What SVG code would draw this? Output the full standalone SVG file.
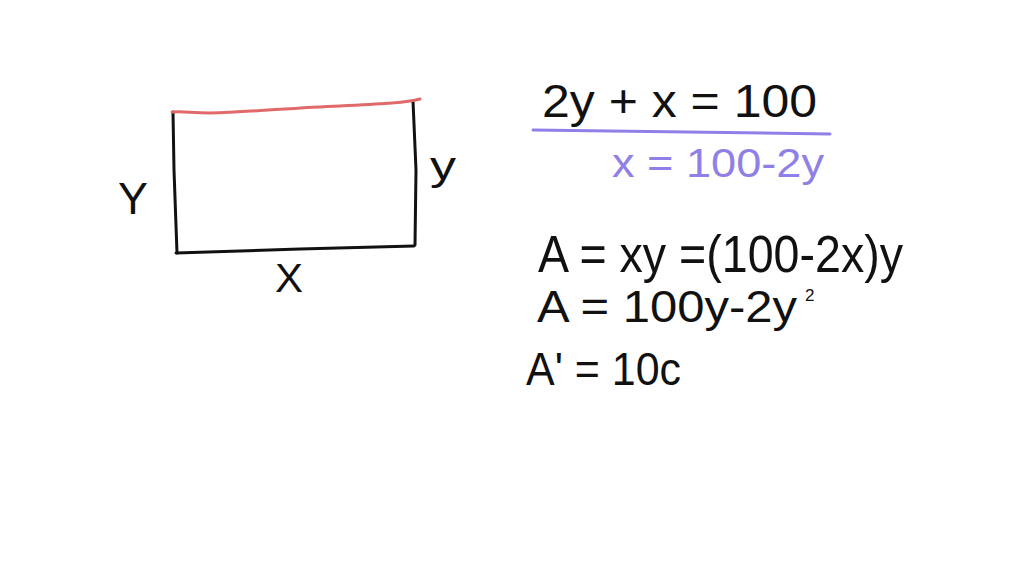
<svg xmlns="http://www.w3.org/2000/svg" width="1024" height="576" viewBox="0 0 1024 576">
<style>
.s{fill:none;stroke:#111;stroke-width:3;stroke-linecap:round;stroke-linejoin:round}
.t{font-family:"Liberation Sans","DejaVu Sans",sans-serif;fill:#111}
.p{fill:#8f7fe6}
</style>
<rect width="1024" height="576" fill="#fff"/>
<g id="rectangle">
<path class="s" d="M173,112 L174,170 L177,253"/>
<path class="s" d="M176,253 L300,249 L414,246"/>
<path class="s" d="M413,101 L416,170 L415,245"/>
<path d="M172,112 C185,111 190,113 210,113 C250,112 290,108 340,106 C380,104 405,103 420,99" fill="none" stroke="#e06a6a" stroke-width="3" stroke-linecap="round"/>
</g>
<g id="labels">
<text class="t" x="118" y="214" font-size="44" textLength="30" lengthAdjust="spacingAndGlyphs">Y</text>
<text class="t" x="430" y="180" font-size="40" textLength="26" lengthAdjust="spacingAndGlyphs">y</text>
<text class="t" x="275" y="292" font-size="40" textLength="28" lengthAdjust="spacingAndGlyphs">X</text>
</g>
<g id="equations">
<text class="t" x="542" y="117" font-size="46" textLength="275" lengthAdjust="spacingAndGlyphs">2y + x = 100</text>
<path d="M533,130 L830,134" stroke="#8f7fe6" stroke-width="3" stroke-linecap="round" fill="none"/>
<text class="t p" x="612" y="177" font-size="40" textLength="212" lengthAdjust="spacingAndGlyphs">x = 100-2y</text>
<text class="t" x="538" y="272" font-size="52" textLength="365" lengthAdjust="spacingAndGlyphs">A = xy =(100-2x)y</text>
<text class="t" x="537" y="322" font-size="44" textLength="260" lengthAdjust="spacingAndGlyphs">A = 100y-2y</text>
<text class="t" x="805" y="301" font-size="17">2</text>
<text class="t" x="526" y="385" font-size="46" textLength="155" lengthAdjust="spacingAndGlyphs">A' = 10c</text>
</g>
</svg>
